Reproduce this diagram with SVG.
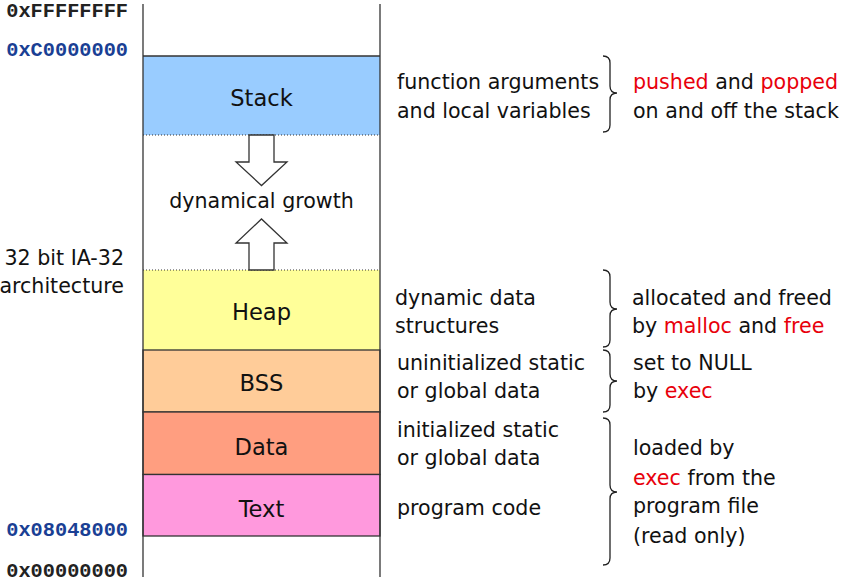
<svg xmlns="http://www.w3.org/2000/svg" width="852" height="587" viewBox="0 0 852 587">
<style>
  .t { font-family: "DejaVu Sans", Verdana, sans-serif; font-size: 20.6px; fill: #111; }
  .lbl { font-family: "DejaVu Sans", Verdana, sans-serif; font-size: 22.6px; fill: #111; text-anchor: middle; }
  .addr { font-family: "Liberation Mono", "Courier New", monospace; font-weight: bold; font-size: 20.3px; text-anchor: end; }
  .blk { fill: #222; }
  .blu { fill: #1a3f94; }
  .red { fill: #e8000b; }
  .seg { stroke: #333; stroke-width: 1.3; }
  .dot { stroke: #333; stroke-width: 1; stroke-dasharray: 1 2; fill: none; }
  .brace { fill: none; stroke: #222; stroke-width: 1.3; }
  .arrow { fill: #fff; stroke: #333; stroke-width: 1.3; }
</style>
<rect width="852" height="587" fill="#fff"/>

<g id="stack">
  <rect x="143" y="56" width="237" height="79" fill="#99ccff"/>
  <line class="seg" x1="143" y1="56" x2="380" y2="56"/>
  <line class="dot" x1="143" y1="135" x2="380" y2="135"/>
  <text class="lbl" x="261.5" y="106">Stack</text>
</g>
<g id="heap">
  <rect x="143" y="270" width="237" height="80" fill="#ffff99"/>
  <line class="dot" x1="143" y1="270" x2="380" y2="270"/>
  <text class="lbl" x="261.5" y="320">Heap</text>
</g>
<g id="bss">
  <rect class="seg" x="143" y="350" width="237" height="62" fill="#ffcc99"/>
  <text class="lbl" x="261.5" y="391">BSS</text>
</g>
<g id="data">
  <rect class="seg" x="143" y="412" width="237" height="62.5" fill="#ff9e80"/>
  <text class="lbl" x="261.5" y="455">Data</text>
</g>
<g id="text-seg">
  <rect class="seg" x="143" y="474.5" width="237" height="61.5" fill="#ff99dd"/>
  <text class="lbl" x="261.5" y="516.5">Text</text>
</g>

<g id="frame">
  <line class="seg" x1="143" y1="4" x2="143" y2="577"/>
  <line class="seg" x1="380" y1="4" x2="380" y2="577"/>
</g>

<g id="connectors">
  <path class="arrow" d="M249,135 L274,135 L274,162 L287,162 L261.5,185.5 L236,162 L249,162 Z"/>
  <path class="arrow" d="M249,270 L274,270 L274,243 L287,243 L261.5,219 L236,243 L249,243 Z"/>
  <path class="brace" d="M603,56 Q610,56 610,63 L610,86 Q610,93 617,93 Q610,93 610,100 L610,125 Q610,132 603,132"/>
  <path class="brace" d="M603,270 Q610,270 610,277 L610,302 Q610,309 617,309 Q610,309 610,316 L610,340 Q610,347 603,347"/>
  <path class="brace" d="M603,350 Q610,350 610,357 L610,374 Q610,381 617,381 Q610,381 610,388 L610,405 Q610,412 603,412"/>
  <path class="brace" d="M603,418 Q610,418 610,425 L610,485 Q610,492 617,492 Q610,492 610,499 L610,558 Q610,565 603,565"/>
</g>

<g id="addresses">
  <text class="addr blk" x="128" y="17">0xFFFFFFFF</text>
  <text class="addr blu" x="128" y="56">0xC0000000</text>
  <text class="addr blu" x="128" y="536">0x08048000</text>
  <text class="addr blk" x="128" y="577">0x00000000</text>
</g>

<g id="arch-label">
  <text class="t" x="124" y="265" text-anchor="end">32 bit IA-32</text>
  <text class="t" x="124" y="293" text-anchor="end">architecture</text>
</g>

<g id="growth-label">
  <text class="t" x="261.5" y="208" text-anchor="middle">dynamical growth</text>
</g>

<g id="descriptions">
  <text class="t" x="397" y="89">function arguments</text>
  <text class="t" x="397" y="118">and local variables</text>
  <text class="t" x="395" y="305">dynamic data</text>
  <text class="t" x="395" y="333">structures</text>
  <text class="t" x="397" y="370">uninitialized static</text>
  <text class="t" x="397" y="398">or global data</text>
  <text class="t" x="397" y="437">initialized static</text>
  <text class="t" x="397" y="465">or global data</text>
  <text class="t" x="397" y="515">program code</text>
</g>

<g id="notes">
  <text class="t" x="633" y="89"><tspan class="red">pushed</tspan> and <tspan class="red">popped</tspan></text>
  <text class="t" x="633" y="118">on and off the stack</text>
  <text class="t" x="632" y="305">allocated and freed</text>
  <text class="t" x="632" y="333">by <tspan class="red">malloc</tspan> and <tspan class="red">free</tspan></text>
  <text class="t" x="633" y="370">set to NULL</text>
  <text class="t" x="633" y="398">by <tspan class="red">exec</tspan></text>
  <text class="t" x="633" y="455">loaded by</text>
  <text class="t" x="633" y="485"><tspan class="red">exec</tspan> from the</text>
  <text class="t" x="633" y="513">program file</text>
  <text class="t" x="633" y="543">(read only)</text>
</g>
</svg>
